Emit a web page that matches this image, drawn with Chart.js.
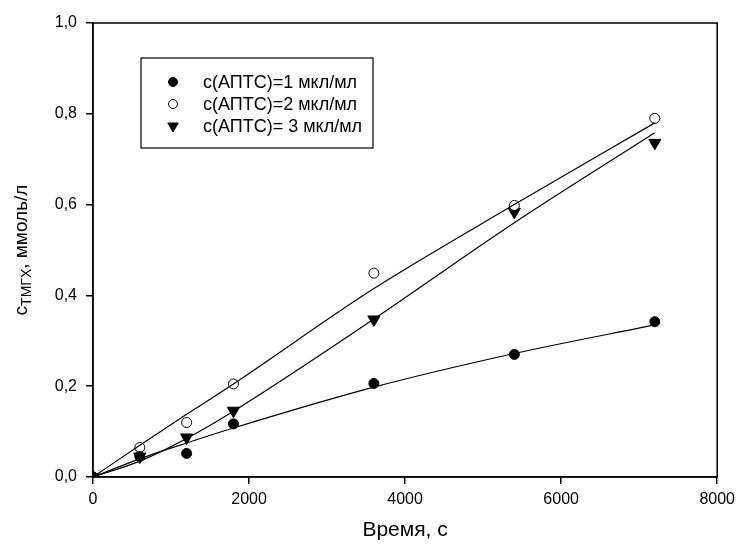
<!DOCTYPE html>
<html>
<head>
<meta charset="utf-8">
<script src="https://cdn.jsdelivr.net/npm/chart.js@4.4.1/dist/chart.umd.min.js"></script>
<style>
  html, body { margin: 0; padding: 0; background: #fff; }
  #wrap { width: 741px; height: 554px; }
</style>
</head>
<body>
<div id="wrap"><canvas id="chart"></canvas></div>
<script>
// time, s
const timeValues = [0, 600, 1200, 1800, 3600, 5400, 7200];
// measured points
const conc1 = [0, 0.045, 0.052, 0.117, 0.206, 0.27, 0.342];
const conc2 = [0, 0.065, 0.12, 0.205, 0.449, 0.598, 0.79];
const conc3 = [0, 0.045, 0.087, 0.146, 0.347, 0.584, 0.736];
// fitted curves
const fit1 = [0, 0.04, 0.075, 0.108, 0.198, 0.272, 0.335];
const fit2 = [0, 0.07, 0.138, 0.205, 0.415, 0.6, 0.78];
const fit3 = [0, 0.035, 0.085, 0.145, 0.348, 0.56, 0.758];
const seriesLabels = ['с(АПТС)=1 мкл/мл', 'с(АПТС)=2 мкл/мл', 'с(АПТС)= 3 мкл/мл'];
const xTicks = [0, 2000, 4000, 6000, 8000];
const yTicks = [0, 0.2, 0.4, 0.6, 0.8, 1.0];

const FONT = '"Liberation Sans", Arial, sans-serif';

const toXY = (ys) => ys.map((y, i) => ({ x: timeValues[i], y: y }));

const fitLine = (ys) => ({
  type: 'line',
  data: toXY(ys),
  borderColor: '#000',
  borderWidth: 1.2,
  pointRadius: 0,
  tension: 0.2,
  cubicInterpolationMode: 'monotone',
  fill: false
});

const markers = [
  { label: seriesLabels[0], data: toXY(conc1), pointStyle: 'circle', pointRadius: 5, backgroundColor: '#000', borderColor: '#000', borderWidth: 1, rotation: 0 },
  { label: seriesLabels[1], data: toXY(conc2), pointStyle: 'circle', pointRadius: 5, backgroundColor: '#fff', borderColor: '#000', borderWidth: 1, rotation: 0 },
  { label: seriesLabels[2], data: toXY(conc3), pointStyle: 'triangle', pointRadius: 7, backgroundColor: '#000', borderColor: '#000', borderWidth: 1, rotation: 180 }
];

// box around the plot, inner legend, axis titles
const decor = {
  id: 'decor',
  afterDraw(chart) {
    const ctx = chart.ctx;
    const a = chart.chartArea;
    ctx.save();
    ctx.strokeStyle = '#000';
    ctx.lineWidth = 1.5;
    ctx.strokeRect(a.left, a.top, a.right - a.left, a.bottom - a.top);

    // legend
    const lx = 141, ly = 58, lw = 232, lh = 90;
    ctx.fillStyle = '#fff';
    ctx.fillRect(lx, ly, lw, lh);
    ctx.lineWidth = 1.2;
    ctx.strokeRect(lx, ly, lw, lh);
    const rows = [82, 104, 126];
    ctx.font = '18px ' + FONT;
    ctx.textBaseline = 'middle';
    markers.forEach((m, i) => {
      ctx.fillStyle = m.backgroundColor;
      ctx.strokeStyle = m.borderColor;
      ctx.lineWidth = 1;
      Chart.helpers.drawPoint(ctx, {
        pointStyle: m.pointStyle,
        radius: m.pointStyle === 'triangle' ? 6 : 4.5,
        rotation: m.rotation,
        borderWidth: 1
      }, 173, rows[i]);
      ctx.fillStyle = '#000';
      ctx.textAlign = 'left';
      ctx.fillText(m.label, 203, rows[i] + 1);
    });

    // x title
    ctx.font = '21px ' + FONT;
    ctx.textAlign = 'center';
    ctx.fillText('Время, с', (a.left + a.right) / 2, 530);

    // y title with subscript
    ctx.translate(22, (a.top + a.bottom) / 2);
    ctx.rotate(-Math.PI / 2);
    const big = '19px ' + FONT, small = '14px ' + FONT;
    ctx.font = big; const w1 = ctx.measureText('c').width;
    ctx.font = small; const w2 = ctx.measureText('ТМГХ').width;
    ctx.font = big; const w3 = ctx.measureText(', ммоль/л').width;
    let x0 = -(w1 + w2 + w3) / 2;
    ctx.textAlign = 'left';
    ctx.font = big; ctx.fillText('c', x0, 0);
    ctx.font = small; ctx.fillText('ТМГХ', x0 + w1, 5);
    ctx.font = big; ctx.fillText(', ммоль/л', x0 + w1 + w2, 0);
    ctx.restore();
  }
};

new Chart(document.getElementById('chart'), {
  type: 'scatter',
  data: {
    datasets: [
      fitLine(fit1), fitLine(fit2), fitLine(fit3),
      ...markers.map(m => Object.assign({ type: 'scatter', showLine: false }, m, { pointRotation: m.rotation }))
    ]
  },
  options: {
    responsive: true,
    maintainAspectRatio: false,
    animation: false,
    events: [],
    layout: { padding: { top: 23, right: 20, left: 0, bottom: 0 } },
    plugins: {
      legend: { display: false },
      tooltip: { enabled: false }
    },
    scales: {
      x: {
        type: 'linear',
        min: 0, max: 8000,
        afterFit: (s) => { s.height = 77; },
        afterBuildTicks: (s) => { s.ticks = xTicks.map(v => ({ value: v })); },
        grid: { drawOnChartArea: false, drawTicks: true, tickLength: 7, color: '#000', lineWidth: 1.5 },
        border: { color: '#000', width: 1.5 },
        ticks: {
          color: '#000', padding: 6, font: { family: FONT, size: 16 }, maxRotation: 0,
          callback: (v) => String(v)
        }
      },
      y: {
        type: 'linear',
        min: 0, max: 1,
        afterFit: (s) => { s.width = 93; },
        afterBuildTicks: (s) => { s.ticks = yTicks.map(v => ({ value: v })); },
        grid: { drawOnChartArea: false, drawTicks: true, tickLength: 7, color: '#000', lineWidth: 1.5 },
        border: { color: '#000', width: 1.5 },
        ticks: {
          color: '#000', padding: 9, font: { family: FONT, size: 16 },
          callback: (v) => v.toFixed(1).replace('.', ',')
        }
      }
    }
  },
  plugins: [decor]
});
</script>
</body>
</html>
